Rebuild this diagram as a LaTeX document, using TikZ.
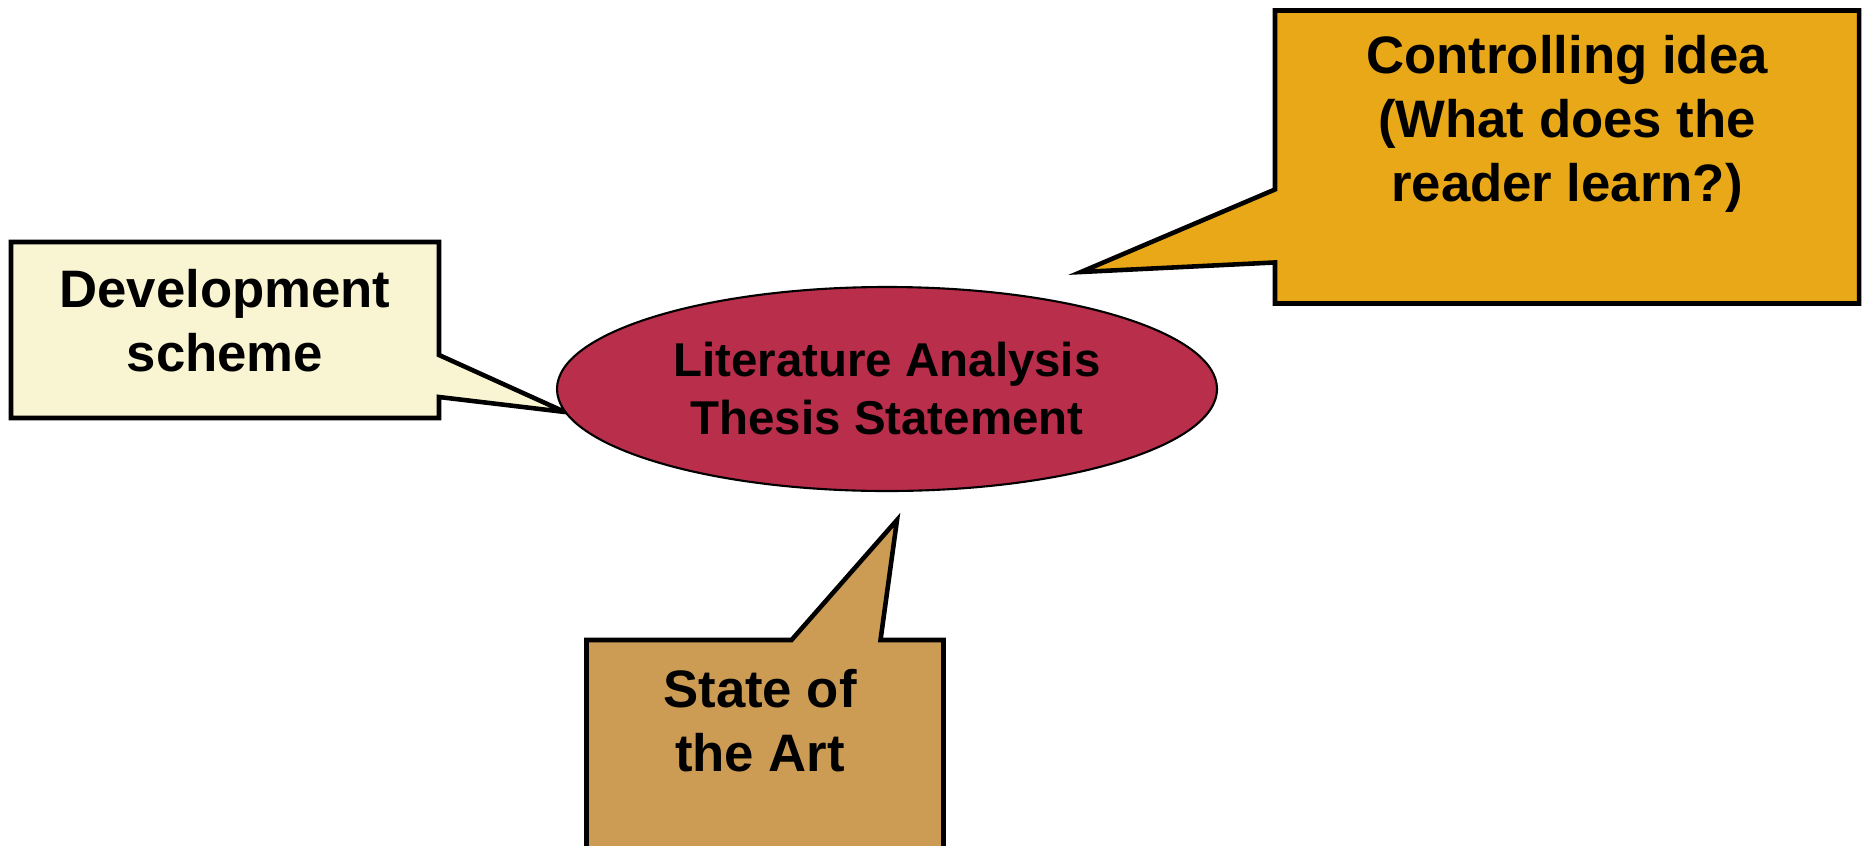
\documentclass[tikz,border=0pt]{standalone}
\usepackage{fontspec}
\setmainfont{Liberation Sans}
\definecolor{devyellow}{RGB}{249,245,210}
\definecolor{thesisred}{RGB}{185,46,74}
\definecolor{ideagold}{RGB}{233,168,24}
\definecolor{artbrown}{RGB}{204,156,85}
\usetikzlibrary{shapes.geometric,shapes.callouts}

\begin{document}
\begin{tikzpicture}[
      thesis/.style={ellipse, draw, fill=thesisred, line width=0.6pt,
                  minimum width=6.6cm, minimum height=2.04cm, inner sep=0pt,
                  font=\fontsize{13.5}{16.5}\selectfont\bfseries, align=center},
      callbox/.style={rectangle callout, draw, line width=1.3pt, inner sep=0pt},
      boxtext/.style={font=\fontsize{15}{18.2}\selectfont\bfseries, align=center}
  ]
    \useasboundingbox (0,0) rectangle (18.66,8.45);
    \coordinate (devtip) at (5.65,4.33);
    \coordinate (ideatip) at (10.81,5.73);
    \coordinate (arttip) at (8.97,3.25);
    % speech boxes first, the ellipse covers the left tip
    \node[callbox, fill=devyellow, minimum width=4.28cm, minimum height=1.76cm,
          callout absolute pointer={(devtip)}, callout pointer width=0.42cm] (dev) at (2.25,5.15) {};
    \node[callbox, fill=ideagold, minimum width=5.84cm, minimum height=2.93cm,
          callout absolute pointer={(ideatip)}, callout pointer width=0.73cm] (idea) at (15.67,6.88) {};
    \node[callbox, fill=artbrown, minimum width=3.57cm, minimum height=2.8cm,
          callout absolute pointer={(arttip)}, callout pointer width=0.89cm] (art) at (7.65,0.65) {};
    \node[thesis] (lit) at (8.87,4.56) {Literature Analysis\\ Thesis Statement};
    \node[boxtext] (devtxt) at ([yshift=0.09cm]dev.center) {Development\\ scheme};
    \node[boxtext] (ideatxt) at ([yshift=0.33cm]idea.center) {Controlling idea\\ (What does the\\ reader learn?)};
    \node[boxtext] (arttxt) at (7.6,1.24) {State of\\ the Art};
  \end{tikzpicture}
\end{document}
